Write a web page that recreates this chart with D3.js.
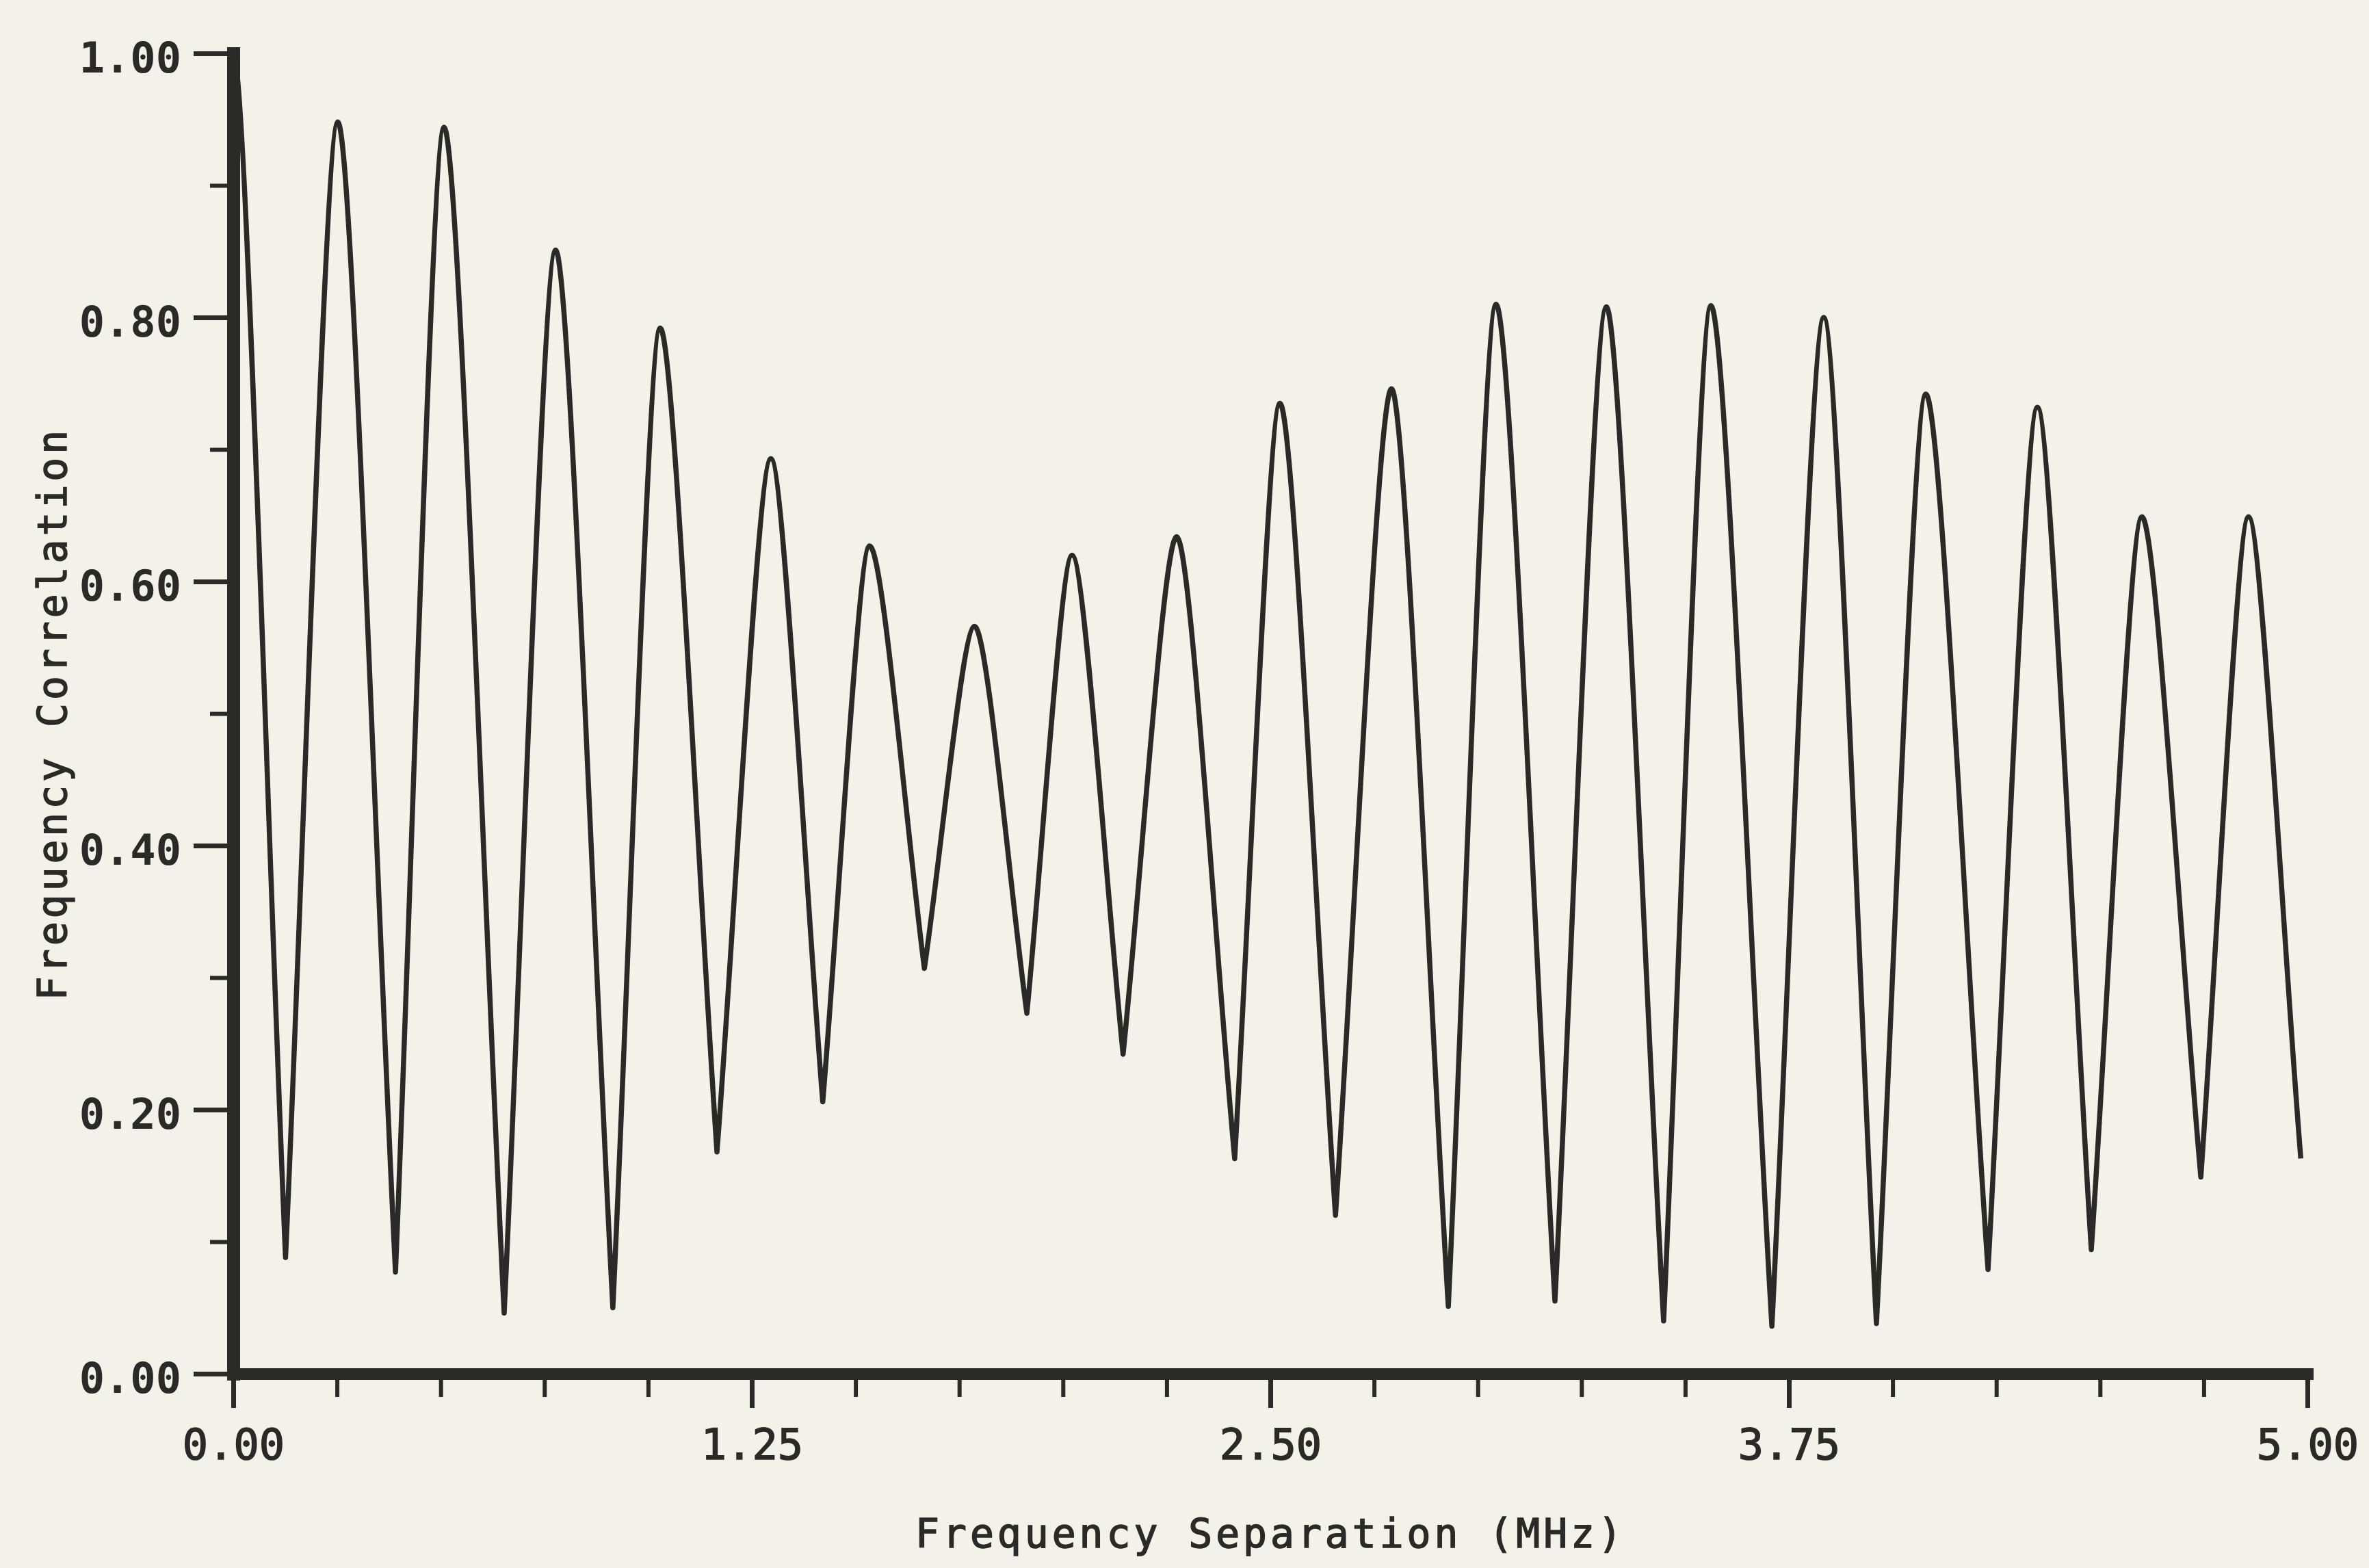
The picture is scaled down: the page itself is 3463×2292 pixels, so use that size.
<!DOCTYPE html>
<html>
<head>
<meta charset="utf-8">
<script src="https://cdn.jsdelivr.net/npm/d3@7"></script>
<style>
  html, body { margin: 0; padding: 0; background: #f2f2ea; }
  svg { display: block; }
</style>
</head>
<body>
<svg id="chart" width="3463" height="2292"></svg>
<script>
// Turning points of the frequency correlation curve (peaks and nulls)
const freqMHz = [
  0.000, 0.126, 0.252, 0.391, 0.508, 0.653, 0.777, 0.915,
  1.029, 1.166, 1.296, 1.421, 1.534, 1.666, 1.787, 1.913, 2.022, 2.145,
  2.274, 2.414, 2.523, 2.657, 2.792, 2.929, 3.044, 3.186, 3.310, 3.448,
  3.562, 3.709, 3.834, 3.961, 4.080, 4.230, 4.349, 4.479, 4.601, 4.743,
  4.858, 4.984
];
const correlation = [
  1.000, 0.088, 0.948, 0.077, 0.944, 0.046, 0.851, 0.050,
  0.792, 0.168, 0.693, 0.206, 0.627, 0.307, 0.566, 0.273, 0.620, 0.242,
  0.634, 0.163, 0.735, 0.120, 0.746, 0.051, 0.810, 0.055, 0.808, 0.040,
  0.809, 0.036, 0.800, 0.038, 0.742, 0.079, 0.732, 0.094, 0.649, 0.149,
  0.649, 0.163
];

const xMajorTicks = [0, 1.25, 2.5, 3.75, 5];
const xTickLabels = ["0.00", "1.25", "2.50", "3.75", "5.00"];
const xMinorTicks = [0.25, 0.5, 0.75, 1.0, 1.5, 1.75, 2.0, 2.25, 2.75, 3.0, 3.25, 3.5, 4.0, 4.25, 4.5, 4.75];

const yMajorTicks = [0, 0.2, 0.4, 0.6, 0.8, 1.0];
const yTickLabels = ["0.00", "0.20", "0.40", "0.60", "0.80", "1.00"];
const yMinorTicks = [0.1, 0.3, 0.5, 0.7, 0.9];

const xTitle = "Frequency Separation (MHz)";
const yTitle = "Frequency Correlation";

const ink = "#2a2a26";
const mono = "'DejaVu Sans Mono', 'Liberation Mono', monospace";

// Curve factory joining alternating maxima and minima: a short flat tangent
// at each maximum, a sharp notch at each minimum (screen y larger = lower value).
function curvePeakNotch(context) {
  let pts;
  const notchSlope = 1.0;
  const peakHandle = 0.24;
  return {
    areaStart() {}, areaEnd() {},
    lineStart() { pts = []; },
    point(x, y) { pts.push([+x, +y]); },
    lineEnd() {
      if (!pts.length) return;
      context.moveTo(pts[0][0], pts[0][1]);
      for (let i = 1; i < pts.length; i++) {
        const [ax, ay] = pts[i - 1], [bx, by] = pts[i];
        const dx = bx - ax, dy = by - ay;
        const aIsNotch = ay > by;
        const c1 = aIsNotch ? [ax + dx / 3, ay + notchSlope * dy / 3] : [ax + dx * peakHandle, ay];
        const c2 = aIsNotch ? [bx - dx * peakHandle, by] : [bx - dx / 3, by - notchSlope * dy / 3];
        context.bezierCurveTo(c1[0], c1[1], c2[0], c2[1], bx, by);
      }
    }
  };
}

const svg = d3.select("#chart");

const x = d3.scaleLinear().domain([0, 5]).range([341, 3373]);
const y = d3.scaleLinear().domain([0, 1]).range([2008, 78]);

// ---- minor ticks ----
const xMinor = svg.append("g")
  .attr("transform", `translate(0,${y(0)})`)
  .call(d3.axisBottom(x).tickValues(xMinorTicks).tickSize(34).tickSizeOuter(0).tickFormat(""));
xMinor.select(".domain").remove();

const yMinor = svg.append("g")
  .attr("transform", `translate(${x(0)},0)`)
  .call(d3.axisLeft(y).tickValues(yMinorTicks).tickSize(34).tickSizeOuter(0).tickFormat(""));
yMinor.select(".domain").remove();

[xMinor, yMinor].forEach(g => g.selectAll(".tick line").attr("stroke", ink).attr("stroke-width", 6));

// ---- major ticks, labels and axis lines ----
const xAxis = svg.append("g")
  .attr("transform", `translate(0,${y(0)})`)
  .call(d3.axisBottom(x)
    .tickValues(xMajorTicks)
    .tickSize(50)
    .tickSizeOuter(0)
    .tickPadding(31)
    .tickFormat((d, i) => xTickLabels[i]));

const yAxis = svg.append("g")
  .attr("transform", `translate(${x(0)},0)`)
  .call(d3.axisLeft(y)
    .tickValues(yMajorTicks)
    .tickSize(58)
    .tickSizeOuter(0)
    .tickPadding(18)
    .tickFormat((d, i) => yTickLabels[i]));

[xAxis, yAxis].forEach(g => {
  g.attr("font-family", null).attr("font-size", null);
  g.selectAll(".tick line").attr("stroke", ink).attr("stroke-width", 7);
  g.selectAll(".tick text")
    .attr("fill", ink)
    .style("font-family", mono)
    .style("font-size", "62px");
});
xAxis.select(".domain").attr("stroke", ink).attr("stroke-width", 17).attr("stroke-linecap", "square");
yAxis.select(".domain").attr("stroke", ink).attr("stroke-width", 19).attr("stroke-linecap", "square");
yAxis.selectAll(".tick text").style("font-weight", "bold").attr("y", 8);
xAxis.selectAll(".tick text").style("font-weight", "normal")
  .attr("stroke", ink).attr("stroke-width", 1.5);

// ---- correlation curve ----
const points = freqMHz.map((f, i) => ({ f, c: correlation[i] }));
const line = d3.line()
  .x(d => x(d.f))
  .y(d => y(d.c))
  .curve(curvePeakNotch);

svg.append("path")
  .datum(points)
  .attr("d", line)
  .attr("fill", "none")
  .attr("stroke", ink)
  .attr("stroke-width", 7.5)
  .attr("stroke-linejoin", "round");

// ---- axis titles ----
svg.append("text")
  .attr("x", (x(0) + x(5)) / 2)
  .attr("y", 2262)
  .attr("text-anchor", "middle")
  .attr("fill", ink)
  .attr("stroke", ink)
  .attr("stroke-width", 1.5)
  .style("font-family", mono)
  .style("font-size", "58px")
  .style("letter-spacing", "5px")
  .text(xTitle);

svg.append("text")
  .attr("transform", `translate(97,${(y(0) + y(1)) / 2}) rotate(-90)`)
  .attr("text-anchor", "middle")
  .attr("fill", ink)
  .attr("stroke", ink)
  .attr("stroke-width", 1.5)
  .style("font-family", mono)
  .style("font-size", "58px")
  .style("letter-spacing", "5px")
  .text(yTitle);
</script>
</body>
</html>
